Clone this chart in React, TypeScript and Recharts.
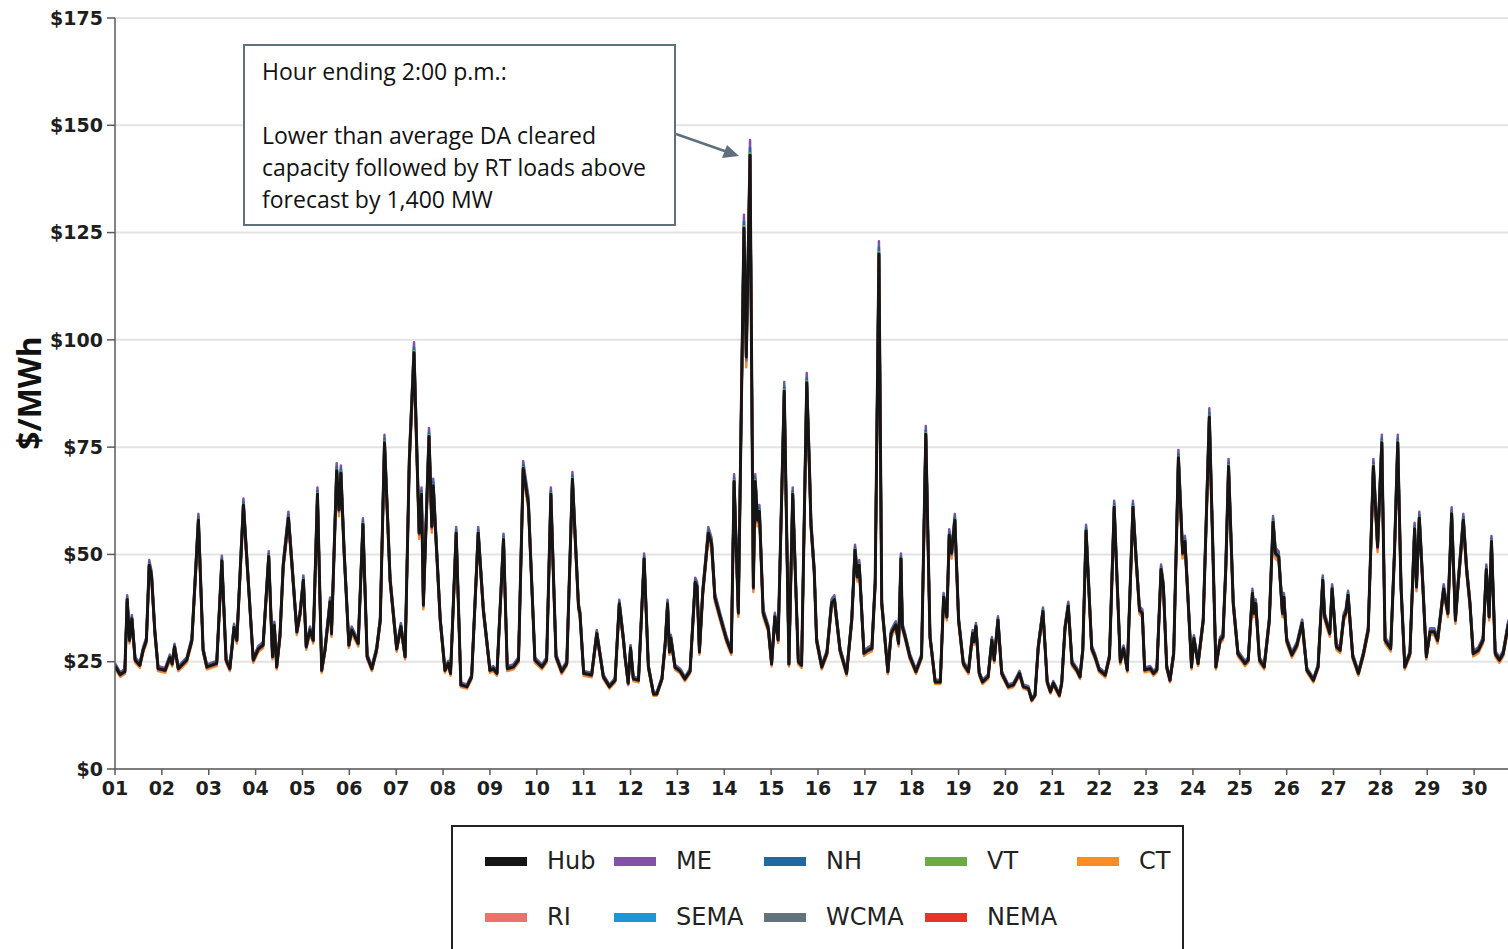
import React from "react";
import { LineChart, Line, XAxis, YAxis, CartesianGrid } from "recharts";

// Real-time hourly LMPs, day of month (fractional) vs $/MWh
const days = [
  1.0, 1.11, 1.21, 1.26, 1.31, 1.36, 1.43, 1.53, 1.6, 1.67, 1.73, 1.78, 1.85, 1.92,
  2.07, 2.17, 2.22, 2.27, 2.35, 2.53, 2.64, 2.78, 2.88, 2.96,
  3.17, 3.28, 3.37, 3.45, 3.54, 3.6, 3.74, 3.95,
  4.06, 4.16, 4.28, 4.36, 4.4, 4.45, 4.52, 4.59, 4.7, 4.77, 4.88, 4.95,
  5.02, 5.08, 5.16, 5.23, 5.32, 5.41, 5.48, 5.59, 5.62, 5.73, 5.78, 5.82, 5.89, 5.99,
  6.05, 6.19, 6.29, 6.38, 6.48, 6.58, 6.66, 6.75, 6.87,
  7.01, 7.1, 7.19, 7.28, 7.38, 7.49, 7.54, 7.58, 7.7, 7.76, 7.79, 7.94,
  8.04, 8.11, 8.16, 8.28, 8.38, 8.51, 8.61, 8.75, 8.86,
  9.0, 9.07, 9.15, 9.29, 9.37, 9.5, 9.61, 9.71, 9.82, 9.96,
  10.11, 10.21, 10.3, 10.41, 10.53, 10.64, 10.76, 10.89, 10.92,
  11.0, 11.17, 11.28, 11.42, 11.55, 11.67, 11.76, 11.85, 11.88, 11.95,
  12.0, 12.06, 12.17, 12.29, 12.38, 12.49, 12.56, 12.67, 12.74, 12.79, 12.83, 12.86, 12.95,
  13.06, 13.16, 13.27, 13.38, 13.42, 13.47, 13.54, 13.66, 13.73, 13.8, 13.91,
  14.05, 14.15, 14.21, 14.3, 14.42, 14.47, 14.55, 14.62, 14.66, 14.71, 14.75, 14.83, 14.94,
  15.01, 15.08, 15.15, 15.28, 15.38, 15.46, 15.58, 15.65, 15.76, 15.82, 15.85, 15.92, 15.97,
  16.08, 16.19, 16.29, 16.35, 16.47, 16.61, 16.72, 16.79, 16.84, 16.88, 16.98,
  17.07, 17.15, 17.22, 17.3, 17.36, 17.49, 17.56, 17.66, 17.72, 17.77, 17.8, 17.86, 17.96,
  18.09, 18.21, 18.3, 18.39, 18.5, 18.61, 18.68, 18.75, 18.8, 18.85, 18.92,
  19.0, 19.1, 19.21, 19.3, 19.33, 19.37, 19.44, 19.51, 19.63, 19.71, 19.76, 19.84, 19.92,
  20.06, 20.17, 20.3, 20.38, 20.49, 20.56, 20.63, 20.7, 20.8, 20.89, 20.96,
  21.02, 21.15, 21.2, 21.27, 21.34, 21.42, 21.52, 21.59, 21.65, 21.72, 21.84, 21.91,
  22.0, 22.13, 22.22, 22.32, 22.45, 22.52, 22.6, 22.72, 22.79, 22.86, 22.92, 22.97,
  23.09, 23.16, 23.23, 23.32, 23.37, 23.44, 23.51, 23.59, 23.69, 23.78, 23.83, 23.9, 23.97,
  24.02, 24.11, 24.22, 24.35, 24.42, 24.49, 24.58, 24.64, 24.7, 24.76, 24.86, 24.96,
  25.11, 25.18, 25.27, 25.3, 25.34, 25.42, 25.52, 25.63, 25.71, 25.76, 25.83, 25.91, 25.94,
  26.0, 26.11, 26.22, 26.33, 26.43, 26.57, 26.67, 26.77, 26.81, 26.92, 26.97,
  27.06, 27.14, 27.22, 27.26, 27.31, 27.41, 27.53, 27.64, 27.74, 27.85, 27.94,
  28.03, 28.1, 28.22, 28.3, 28.37, 28.44, 28.52, 28.63, 28.73, 28.77, 28.83, 28.9, 28.98,
  29.06, 29.15, 29.22, 29.29, 29.35, 29.44, 29.52, 29.6, 29.66, 29.77, 29.84, 29.91, 29.98,
  30.09, 30.19, 30.26, 30.32, 30.37, 30.45, 30.54, 30.62, 30.72, 30.8,
];

const hubPrice = [
  24, 22, 22.7, 39.5, 30, 35, 25.4, 24.2, 27.7, 30, 47.5, 45, 32, 23.4,
  23, 26, 24.5, 28.5, 23.4, 25.4, 30, 58, 27.7, 23.8,
  24.6, 48.5, 25.4, 23.4, 33, 30, 61.5, 25.4,
  28, 28.9, 49.5, 26.2, 33.5, 23.8, 31, 47.5, 58.5, 48.5, 32, 36.3,
  44, 28.5, 32.4, 30, 64, 23, 27.7, 39, 31.6, 69.5, 60.4, 69, 50.3, 28.9,
  32.4, 29.3, 57, 26.2, 23.4, 27.7, 34.7, 76, 44,
  28, 33.2, 26.2, 72, 97, 55, 64, 38.2, 77.5, 56.5, 66, 34.7,
  23, 24.6, 22.3, 55, 19.6, 19.2, 21.5, 55, 37,
  23, 23.4, 22.3, 53.5, 23.4, 23.8, 25.4, 70, 62, 25.4,
  23.8, 25.4, 64, 26.2, 22.7, 24.6, 67.5, 37.8, 36.3,
  22.3, 21.9, 31.6, 21.5, 19.2, 20.7, 38.5, 30, 26.4, 20,
  28.2, 21, 20.7, 49, 23.9, 17.5, 17.5, 21, 29.2, 38.5, 27.3, 30.5, 23.7,
  22.8, 21, 22.8, 43.5, 42.5, 27.3, 41, 55, 52.5, 40, 35.5,
  30.1, 27.3, 67, 36.4, 126, 96, 143, 42.3, 67, 58, 60, 36.4, 32.7,
  24.5, 35.5, 30.1, 88, 24.5, 64, 25, 24.2, 90, 69, 57, 46, 30,
  23.8, 27, 38.6, 39.5, 27.7, 22.3, 34.7, 51, 44.8, 47.5, 27,
  27.7, 28.1, 43.3, 120, 38.6, 22.7, 31.6, 33.6, 29.3, 49, 33.2, 30.8, 26.2,
  22.7, 26.2, 78, 30.8, 20.3, 20.3, 40, 35.5, 54.5, 50.3, 58,
  34.7, 24.6, 22.7, 31.6, 29.7, 33.2, 22.3, 20.3, 21.5, 30, 25.4, 34.7, 22.3,
  19.2, 19.6, 22.3, 19.2, 18.8, 16.1, 17.2, 28.5, 36.7, 20.3, 18,
  20, 17.2, 20, 32.8, 38, 24.6, 23.1, 21.5, 27.7, 55.5, 28.1, 26.2,
  23.1, 21.9, 26.2, 61, 25, 28.1, 23.1, 61, 48.5, 37, 36.3, 23.1,
  23.4, 22.3, 23.1, 46.5, 42.5, 23.8, 20.7, 26.9, 72.5, 50.3, 53, 38.6, 23.8,
  30.4, 24.6, 34.7, 82, 53.4, 23.8, 30, 30.8, 46.4, 70.5, 38.6, 26.9,
  24.6, 25.4, 41, 36.3, 38.6, 25.4, 23.8, 34.7, 57.5, 50.3, 49.5, 36.3, 40,
  30, 26.6, 28.9, 34, 23.1, 20.7, 23.8, 44, 35.5, 31.6, 42,
  28.5, 27.7, 35.5, 36.3, 40.5, 26.2, 22.3, 26.9, 32.4, 70.5, 51.8,
  76, 30, 28.1, 50.3, 76, 42.5, 23.8, 26.9, 56, 42.5, 58.5, 44, 26.2,
  32, 32, 30, 36.3, 42, 36.3, 59.5, 34.7, 43.3, 58, 46.4, 38.6, 26.9,
  27.7, 30, 46.5, 35.5, 53, 26.9, 25.4, 26.9, 33.2, 36,
];

// Load zones and their price relative to the Hub
const zones = ["ME", "NH", "VT", "CT", "RI", "SEMA", "WCMA", "NEMA"];
const zoneRatio = [1.025, 1.012, 1.004, 0.975, 0.99, 0.992, 1.0, 0.995];

const legendOrder = ["Hub", "ME", "NH", "VT", "CT", "RI", "SEMA", "WCMA", "NEMA"];
const seriesColors: Record<string, string> = {
  Hub: "#151515",
  ME: "#8152a6",
  NH: "#22689f",
  VT: "#6aab45",
  CT: "#fb8c22",
  RI: "#ee726b",
  SEMA: "#1d96d6",
  WCMA: "#62737c",
  NEMA: "#e8332a",
};

const dayTicks = Array.from({ length: 30 }, (_, i) => i + 1);
const priceTicks = [0, 25, 50, 75, 100, 125, 150, 175];

const rows = days.map((day, i) => {
  const row: Record<string, number> = { day, Hub: hubPrice[i] };
  zones.forEach((z, k) => {
    row[z] = Number((hubPrice[i] * zoneRatio[k]).toFixed(2));
  });
  return row;
});

const tickStyle = {
  fontSize: 19,
  fontWeight: 700,
  fill: "#1e1e1e",
  fontFamily: "DejaVu Sans",
};

export default function App() {
  return (
    <div
      style={{
        position: "absolute",
        left: 0,
        top: 0,
        width: 1508,
        height: 949,
        overflow: "hidden",
        background: "#fff",
        fontFamily: "DejaVu Sans",
      }}
    >
      <LineChart
        width={1530}
        height={830}
        data={rows}
        margin={{ top: 18, right: 9, left: 0, bottom: 0 }}
      >
        <CartesianGrid vertical={false} stroke="#e3e3e3" strokeWidth={2} />
        <XAxis
          type="number"
          dataKey="day"
          domain={[1, 31]}
          ticks={dayTicks}
          tickFormatter={(v) => String(v).padStart(2, "0")}
          tick={tickStyle}
          tickSize={6}
          tickMargin={7}
          height={61}
          stroke="#5a5a5a"
          strokeWidth={1.5}
          allowDataOverflow
        />
        <YAxis
          domain={[0, 175]}
          ticks={priceTicks}
          tickFormatter={(v) => `$${v}`}
          tick={tickStyle}
          tickSize={8}
          tickMargin={4}
          width={115}
          stroke="#5a5a5a"
          strokeWidth={1.5}
        />
        {zones.map((z) => (
          <Line
            key={z}
            type="linear"
            dataKey={z}
            stroke={seriesColors[z]}
            strokeWidth={2.5}
            strokeLinejoin="round"
            dot={false}
            isAnimationActive={false}
          />
        ))}
        <Line
          type="linear"
          dataKey="Hub"
          stroke={seriesColors.Hub}
          strokeWidth={3}
          strokeLinejoin="round"
          dot={false}
          isAnimationActive={false}
        />
      </LineChart>

      <div
        style={{
          position: "absolute",
          left: 28,
          top: 393,
          transform: "translate(-50%, -50%) rotate(-90deg)",
          fontFamily: "Open Sans",
          fontWeight: 700,
          fontSize: 32,
          color: "#111",
          whiteSpace: "nowrap",
        }}
      >
        $/MWh
      </div>

      <div
        style={{
          position: "absolute",
          left: 243,
          top: 44,
          width: 433,
          height: 182,
          border: "2px solid #5d707c",
          background: "#fff",
          padding: "9px 0 0 17px",
          boxSizing: "border-box",
          fontFamily: "Open Sans",
          fontSize: 23,
          lineHeight: "32px",
          color: "#111",
          whiteSpace: "nowrap",
        }}
      >
        <div>Hour ending 2:00 p.m.:</div>
        <div>&nbsp;</div>
        <div>Lower than average DA cleared</div>
        <div>capacity followed by RT loads above</div>
        <div>forecast by 1,400 MW</div>
      </div>

      <svg
        width={1508}
        height={949}
        style={{ position: "absolute", left: 0, top: 0, pointerEvents: "none" }}
      >
        <line x1={676} y1={134} x2={726} y2={151.5} stroke="#5d707c" strokeWidth={2.5} />
        <polygon points="739,156 722,158 727,145" fill="#5d707c" />
      </svg>

      <div
        style={{
          position: "absolute",
          left: 451,
          top: 825,
          width: 729,
          height: 150,
          border: "2px solid #222",
          background: "#fff",
        }}
      >
        <div
          style={{
            position: "absolute",
            left: 32,
            top: 6,
            display: "grid",
            gridTemplateColumns: "129px 150px 161px 152px 110px",
            gridAutoRows: "56px",
            alignItems: "center",
            fontFamily: "DejaVu Sans",
            fontSize: 24,
            color: "#222",
          }}
        >
          {legendOrder.map((name) => (
            <div key={name} style={{ display: "flex", alignItems: "center" }}>
              <span
                style={{
                  display: "inline-block",
                  width: 42,
                  height: 9,
                  background: seriesColors[name],
                  marginRight: 20,
                }}
              />
              <span>{name}</span>
            </div>
          ))}
        </div>
      </div>
    </div>
  );
}
